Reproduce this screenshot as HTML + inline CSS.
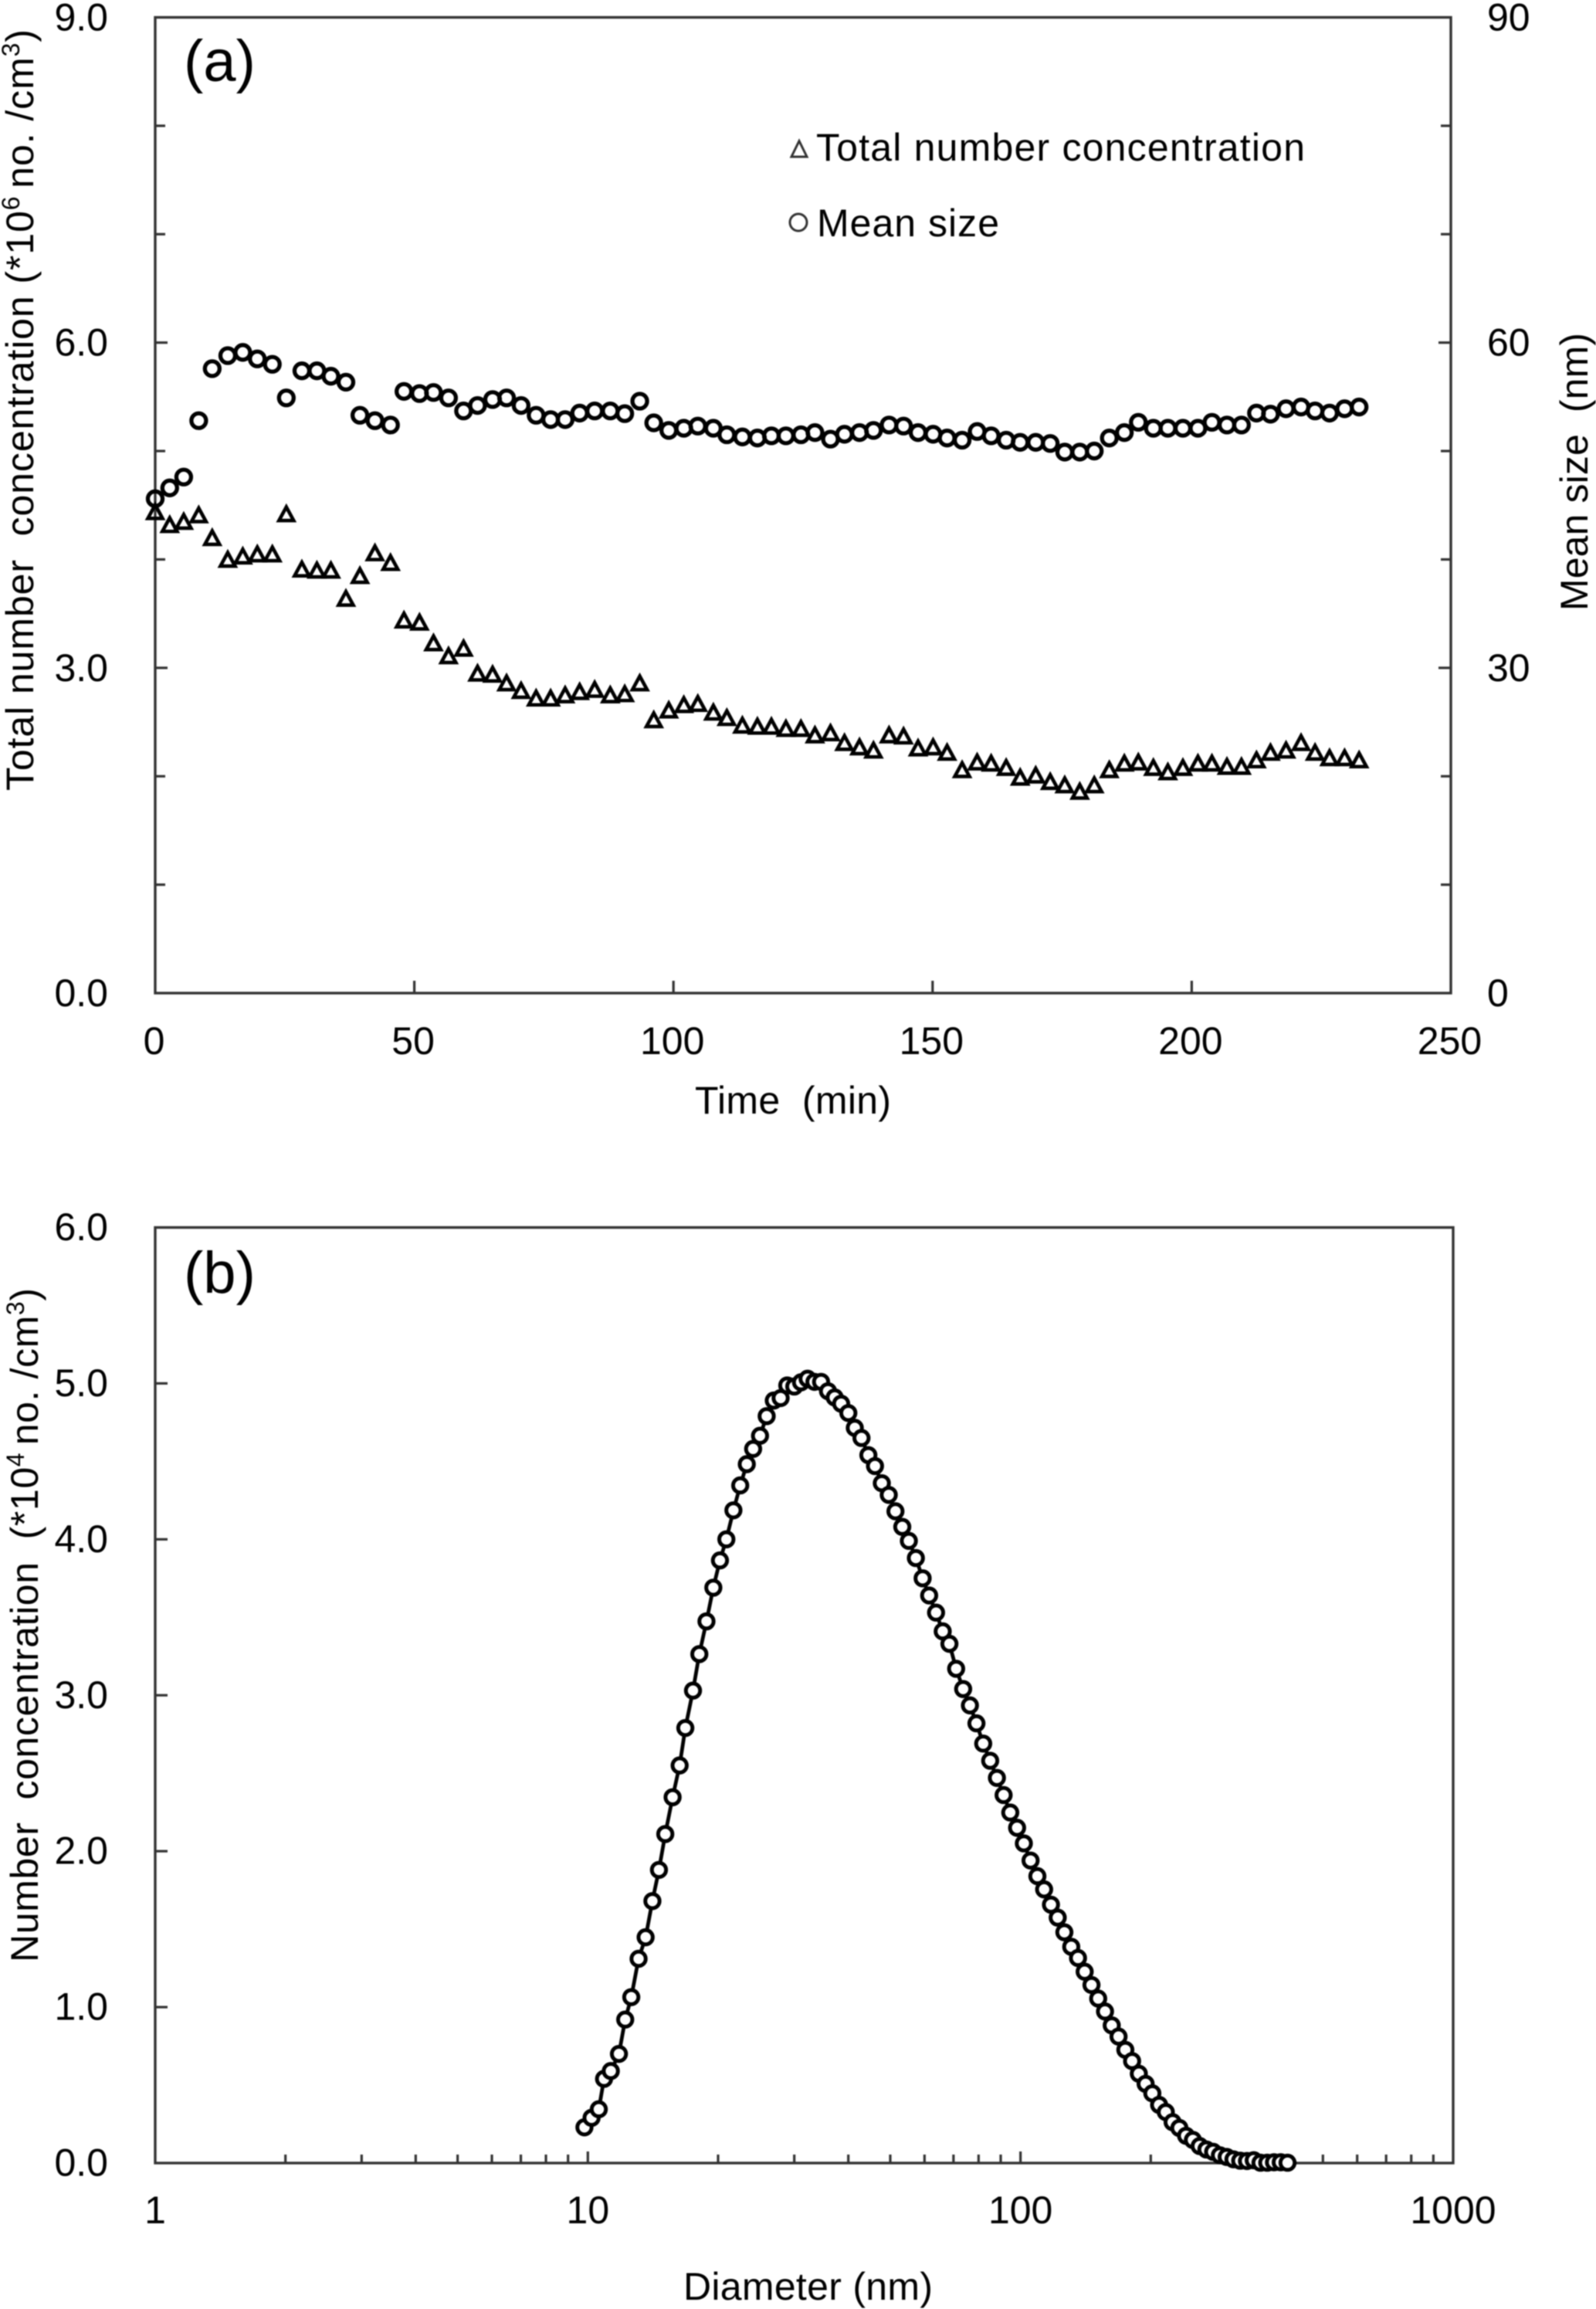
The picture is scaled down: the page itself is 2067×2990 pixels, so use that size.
<!DOCTYPE html>
<html lang="en">
<head>
<meta charset="utf-8">
<title>Particle number concentration and size distribution</title>
<style>
html,body{margin:0;padding:0;background:#fff;}
#fig{display:block;width:2067px;height:2990px;filter:blur(0.7px);}
text{font-family:"Liberation Sans",Arial,sans-serif;font-size:50px;fill:#000;}
.axis{fill:none;stroke:#333;stroke-width:3.4;}
.tick{stroke:#333;stroke-width:3.2;}
</style>
</head>
<body>
<svg id="fig" xmlns="http://www.w3.org/2000/svg" width="2067" height="2990" viewBox="0 0 2067 2990">
  <g id="panel-a">
    <rect class="axis" x="201" y="22.5" width="1678" height="1263.5"/>
    <g id="a-ticks"></g>
    <g id="a-labels"></g>
    <g id="a-tri"></g>
    <g id="a-cir"></g>
    <text x="238" y="105" style="font-size:76px">(a)</text>
    <text x="900" y="1442" xml:space="preserve" textLength="254">Time  (min)</text>
    <text transform="translate(43,1024) rotate(-90)" xml:space="preserve" textLength="986">Total number  concentration (*10<tspan dy="-18" style="font-size:32px">6 </tspan><tspan dy="18">no. /cm</tspan><tspan dy="-18" style="font-size:32px">3</tspan><tspan dy="18">)</tspan></text>
    <text transform="translate(2056,791) rotate(-90)" xml:space="preserve" textLength="360">Mean size  (nm)</text>
    <g>
      <path d="M1035,182.5 L1045,203 L1025,203 Z" fill="none" stroke="#333" stroke-width="3"/>
      <text x="1057" y="208" textLength="633">Total number concentration</text>
      <circle cx="1034" cy="288" r="11" fill="none" stroke="#333" stroke-width="3"/>
      <text x="1058" y="306" textLength="236">Mean size</text>
    </g>
  </g>
  <g id="panel-b">
    <rect class="axis" x="201" y="1589.5" width="1681" height="1211.5"/>
    <g id="b-ticks"></g>
    <g id="b-labels"></g>
    <path id="b-line" fill="none" stroke="#000" stroke-width="4.8"/>
    <g id="b-cir"></g>
    <text x="238" y="1674" style="font-size:76px">(b)</text>
    <text x="885" y="2978" textLength="323">Diameter (nm)</text>
    <text transform="translate(49,2541) rotate(-90)" xml:space="preserve" textLength="873">Number  concentration  (*10<tspan dy="-18" style="font-size:32px">4 </tspan><tspan dy="18">no. /cm</tspan><tspan dy="-18" style="font-size:32px">3</tspan><tspan dy="18">)</tspan></text>
  </g>
</svg>
<script>
var timeMin = [0,2.8,5.5,8.4,11.0,14.0,16.9,19.7,22.6,25.3,28.3,31.2,33.9,36.8,39.5,42.4,45.4,48.0,51.0,53.7,56.6,59.5,62.2,65.1,67.8,70.6,73.5,76.3,79.1,81.9,84.8,87.8,90.6,93.5,96.2,99.1,102.0,104.7,107.7,110.3,113.3,116.2,118.9,121.7,124.6,127.3,130.3,133.0,135.9,138.6,141.6,144.4,147.2,150.1,152.8,155.7,158.6,161.3,164.2,166.9,169.9,172.7,175.5,178.4,181.2,184.1,187.0,189.7,192.6,195.4,198.3,201.2,203.9,206.8,209.6,212.5,215.2,218.2,221.1,223.8,226.6,229.5,232.3];
var totalNumber = [4.45,4.33,4.36,4.42,4.21,4.01,4.04,4.06,4.06,4.43,3.92,3.91,3.91,3.65,3.86,4.07,3.98,3.45,3.43,3.24,3.12,3.19,2.96,2.95,2.87,2.80,2.73,2.73,2.76,2.79,2.81,2.76,2.77,2.87,2.53,2.62,2.67,2.68,2.60,2.55,2.48,2.47,2.47,2.45,2.45,2.39,2.41,2.32,2.28,2.25,2.39,2.38,2.27,2.28,2.23,2.07,2.14,2.13,2.09,2.00,2.02,1.96,1.93,1.87,1.93,2.07,2.13,2.14,2.09,2.05,2.09,2.13,2.13,2.10,2.10,2.16,2.23,2.25,2.32,2.23,2.18,2.18,2.16];
var meanSize = [45.6,46.6,47.6,52.8,57.6,58.8,59.1,58.5,58.0,54.9,57.4,57.4,56.9,56.35,53.3,52.8,52.4,55.5,55.3,55.4,54.9,53.7,54.2,54.75,54.9,54.2,53.3,52.9,52.9,53.5,53.7,53.7,53.45,54.6,52.6,51.9,52.1,52.3,52.1,51.5,51.3,51.2,51.4,51.4,51.5,51.7,51.1,51.55,51.7,51.9,52.4,52.3,51.7,51.55,51.2,51.0,51.8,51.4,51.0,50.8,50.8,50.7,49.9,49.9,50.0,51.2,51.7,52.65,52.1,52.1,52.1,52.1,52.65,52.4,52.4,53.5,53.4,53.9,54.06,53.7,53.5,53.9,54.06];
var diameter = [9.82,10.2,10.6,10.9,11.3,11.8,12.2,12.6,13.1,13.6,14.1,14.6,15.1,15.7,16.3,16.8,17.5,18.1,18.8,19.5,20.2,20.9,21.7,22.5,23.3,24.1,25.0,25.9,26.9,27.9,28.9,30.0,31.1,32.2,33.4,34.6,35.9,37.2,38.5,40.0,41.4,42.9,44.5,46.1,47.8,49.6,51.4,53.3,55.2,57.3,59.4,61.5,63.8,66.1,68.5,71.0,73.7,76.4,79.1,82.0,85.1,88.2,91.4,94.7,98.2,101.8,105.5,109.4,113.4,117.6,121.9,126.3,131.0,135.8,140.7,145.9,151.2,156.8,162.5,168.5,174.7,181.1,187.7,194.6,201.7,209.1,216.7,224.7,232.9,241.4,250.3,259.5,269.0,278.8,289.0,299.6,310.6,322.0,333.8,346.0,358.7,371.8,385.4,399.5,414.2];
var numberConc = [0.229,0.29,0.345,0.54,0.59,0.70,0.92,1.064,1.31,1.448,1.68,1.88,2.11,2.346,2.55,2.79,3.03,3.264,3.474,3.69,3.865,4.00,4.186,4.346,4.482,4.58,4.664,4.79,4.89,4.906,4.987,4.98,5.007,5.03,5.01,5.01,4.95,4.91,4.87,4.81,4.715,4.65,4.54,4.47,4.36,4.285,4.18,4.08,3.99,3.88,3.75,3.64,3.53,3.41,3.33,3.17,3.04,2.935,2.82,2.69,2.58,2.47,2.36,2.248,2.15,2.05,1.94,1.84,1.755,1.657,1.574,1.48,1.387,1.315,1.227,1.142,1.055,0.972,0.883,0.811,0.726,0.654,0.573,0.508,0.447,0.373,0.327,0.262,0.225,0.175,0.148,0.109,0.087,0.072,0.05,0.039,0.024,0.015,0.013,0.018,0.002,0.002,0.005,0.005,0.002];

var timeTicks = [0,50,100,150,200,250];
var leftTicks = [0,3,6,9];
var leftMinorTicks = [1,2,4,5,7,8];
var rightTicks = [0,30,60,90];
var rightMinorTicks = [10,20,40,50,70,80];
var leftTickLabels = ["0.0","3.0","6.0","9.0"];
var rightTickLabels = ["0","30","60","90"];
var timeTickLabels = ["0","50","100","150","200","250"];
var concTicks = [0,1,2,3,4,5,6];
var concTickLabels = ["0.0","1.0","2.0","3.0","4.0","5.0","6.0"];
var decadeTicks = [1,10,100,1000];
var decadeTickLabels = ["1","10","100","1000"];
var logMinorFactors = [2,3,4,5,6,7,8,9];

var SVGNS = "http://www.w3.org/2000/svg";
function xTime(t){ return 201 + t * (1678 / 250); }
function yLeft(v){ return 1286 - v * (1263.5 / 9); }
function yRight(v){ return 1286 - v * (1263.5 / 90); }
function xDiam(d){ return 201 + Math.log10(d) * (1681 / 3); }
function yConc(v){ return 2801 - v * (1211.5 / 6); }

function tickLine(parent, x1, y1, x2, y2){
  var el = document.createElementNS(SVGNS, "line");
  el.setAttribute("class", "tick");
  el.setAttribute("x1", x1);
  el.setAttribute("y1", y1);
  el.setAttribute("x2", x2);
  el.setAttribute("y2", y2);
  
  
  parent.appendChild(el);
}
function label(parent, str, x, y, anchor){
  var el = document.createElementNS(SVGNS, "text");
  el.setAttribute("x", x);
  el.setAttribute("y", y);
  el.setAttribute("text-anchor", anchor);
  el.textContent = str;
  
  
  parent.appendChild(el);
}

var aTicks = document.getElementById("a-ticks");
var aLabels = document.getElementById("a-labels");
timeTicks.forEach(function(t, i){
  if (i > 0 && i < timeTicks.length - 1) tickLine(aTicks, xTime(t), 1286, xTime(t), 1270);
  label(aLabels, timeTickLabels[i], xTime(t) - 1.5, 1365, "middle");
});
leftTicks.forEach(function(v, i){
  if (i > 0 && i < leftTicks.length - 1) tickLine(aTicks, 201, yLeft(v), 217, yLeft(v));
  label(aLabels, leftTickLabels[i], 140, yLeft(v) + 17, "end");
});
leftMinorTicks.forEach(function(v){
  tickLine(aTicks, 201, yLeft(v), 214, yLeft(v));
});
rightTicks.forEach(function(v, i){
  if (i > 0 && i < rightTicks.length - 1) tickLine(aTicks, 1879, yRight(v), 1863, yRight(v));
  label(aLabels, rightTickLabels[i], 1926, yRight(v) + 17, "start");
});
rightMinorTicks.forEach(function(v){
  tickLine(aTicks, 1879, yRight(v), 1866, yRight(v));
});

var aTri = document.getElementById("a-tri");
timeMin.forEach(function(t, i){
  var x = xTime(t), y = yLeft(totalNumber[i]);
  var el = document.createElementNS(SVGNS, "path");
  el.setAttribute("d", "M" + x + "," + (y - 7.5) + " L" + (x + 9.5) + "," + (y + 10) + " L" + (x - 9.5) + "," + (y + 10) + " Z");
  el.setAttribute("fill", "none");
  el.setAttribute("stroke", "#000");
  el.setAttribute("stroke-width", "4.6");
  
  
  aTri.appendChild(el);
});
var aCir = document.getElementById("a-cir");
timeMin.forEach(function(t, i){
  var el = document.createElementNS(SVGNS, "circle");
  el.setAttribute("cx", xTime(t));
  el.setAttribute("cy", yRight(meanSize[i]));
  el.setAttribute("r", "9.5");
  el.setAttribute("fill", "none");
  el.setAttribute("stroke", "#000");
  el.setAttribute("stroke-width", "5.3");
  
  
  aCir.appendChild(el);
});

var bTicks = document.getElementById("b-ticks");
var bLabels = document.getElementById("b-labels");
concTicks.forEach(function(v, i){
  if (i > 0 && i < concTicks.length - 1) tickLine(bTicks, 201, yConc(v), 217, yConc(v));
  label(bLabels, concTickLabels[i], 140, yConc(v) + 16.5, "end");
});
decadeTicks.forEach(function(d, i){
  if (i > 0 && i < decadeTicks.length - 1) tickLine(bTicks, xDiam(d), 2801, xDiam(d), 2786);
  label(bLabels, decadeTickLabels[i], xDiam(d), 2879, "middle");
  if (i < decadeTicks.length - 1) {
    logMinorFactors.forEach(function(f){
      tickLine(bTicks, xDiam(d * f), 2801, xDiam(d * f), 2790);
    });
  }
});

var linePts = [];
diameter.forEach(function(d, i){
  linePts.push((i ? "L" : "M") + xDiam(d).toFixed(1) + "," + yConc(numberConc[i]).toFixed(1));
});
document.getElementById("b-line").setAttribute("d", linePts.join(" "));
var bCir = document.getElementById("b-cir");
diameter.forEach(function(d, i){
  var el = document.createElementNS(SVGNS, "circle");
  el.setAttribute("cx", xDiam(d));
  el.setAttribute("cy", yConc(numberConc[i]));
  el.setAttribute("r", "9.2");
  el.setAttribute("fill", "#fff");
  el.setAttribute("stroke", "#000");
  el.setAttribute("stroke-width", "5");
  
  
  bCir.appendChild(el);
});
</script>
</body>
</html>
